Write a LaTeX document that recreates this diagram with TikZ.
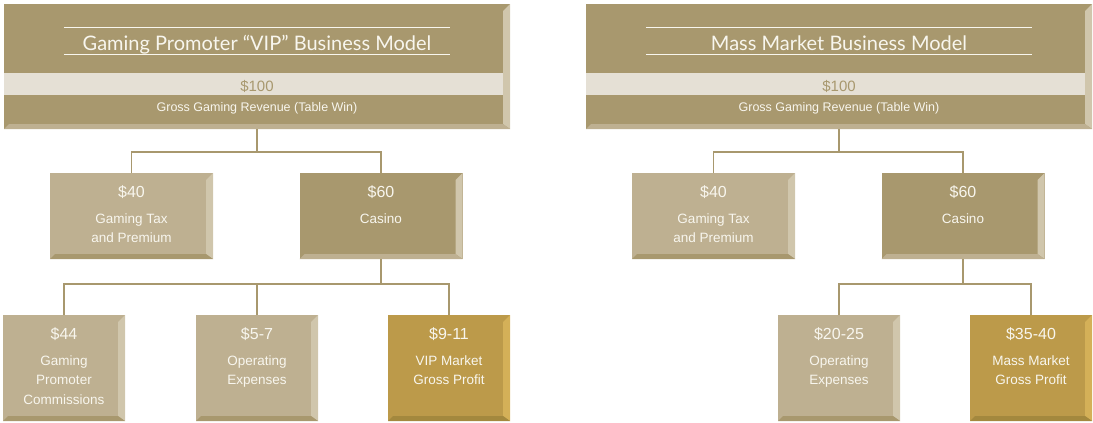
\documentclass[tikz,border=0pt]{standalone}
\usepackage{fontspec}
\setmainfont{Liberation Sans}
\newfontfamily\titlefont{Lato}

\definecolor{khaki}{RGB}{168,152,110}
\definecolor{sand}{RGB}{190,176,145}
\definecolor{pale}{RGB}{208,198,172}
\definecolor{band}{RGB}{229,224,213}
\definecolor{gold}{RGB}{188,154,74}
\definecolor{goldlight}{RGB}{212,176,88}
\definecolor{golddark}{RGB}{163,136,62}
\definecolor{cream}{RGB}{248,246,238}

% right and bottom bevel of a box: name, right colour, bottom colour
\newcommand{\bevel}[3]{%
	\fill[#2] (#1.north east) -- (#1.south east) -- ([xshift=-7pt,yshift=5pt]#1.south east) -- ([xshift=-7pt,yshift=-7pt]#1.north east) -- cycle;
	\fill[#3] (#1.south west) -- (#1.south east) -- ([xshift=-7pt,yshift=5pt]#1.south east) -- ([xshift=5pt,yshift=5pt]#1.south west) -- cycle;}

\tikzset{
	box/.style={rectangle, inner sep=0pt, outer sep=0pt},
	toprow/.style={box, fill=khaki, minimum width=506pt, minimum height=125pt},
	midrow/.style={box, minimum width=163pt, minimum height=86pt},
	lowrow/.style={box, minimum width=122pt, minimum height=106pt},
	heading/.style={inner sep=0pt, minimum width=386pt, text height=22pt, text depth=4pt, text=cream, font=\titlefont\fontsize{20}{24}\selectfont},
	titleline/.style={draw=cream, line width=1pt},
	amount/.style={inner sep=0pt, anchor=base, text=cream, font=\fontsize{16}{19}\selectfont},
	desc/.style={inner sep=0pt, anchor=north, align=center, text=cream, font=\fontsize{13.5}{19.5}\selectfont},
	link/.style={draw=khaki, line width=1.8pt},
}

\begin{document}
\begin{tikzpicture}[x=1pt,y=-1pt]
	\useasboundingbox (0,0) rectangle (1093,423);

	% Gaming promoter side
	\node[toprow] (vip) at (257,66.5) {};
	\fill[band] ([yshift=-69pt]vip.north west) rectangle ([yshift=-91pt]vip.north east);
	\bevel{vip}{pale}{sand}
	\node[heading] (viptitle) at (257,41) {Gaming Promoter “VIP” Business Model};
	\draw[titleline] (viptitle.north west) -- (viptitle.north east);
	\draw[titleline] (viptitle.south west) -- (viptitle.south east);
	\node[amount, text=khaki, font=\fontsize{15}{18}\selectfont] at ([yshift=-87.5pt]vip.north) {\$100};
	\node[amount, font=\fontsize{12.5}{15}\selectfont] at ([yshift=-107pt]vip.north) {Gross Gaming Revenue (Table Win)};

	\node[midrow, fill=sand] (vtax) at (131.5,216) {};
	\bevel{vtax}{pale}{khaki}
	\node[amount] at ([yshift=-24.5pt]vtax.north) {\$40};
	\node[desc] at ([yshift=-40.5pt]vtax.north) {Gaming Tax\\and Premium};

	\node[midrow, fill=khaki] (vcasino) at (381,216) {};
	\bevel{vcasino}{pale}{sand}
	\node[amount] at ([yshift=-24.5pt]vcasino.north) {\$60};
	\node[desc] at ([yshift=-40.5pt]vcasino.north) {Casino};

	\node[lowrow, fill=sand] (vcom) at (64,368) {};
	\bevel{vcom}{pale}{khaki}
	\node[amount] at ([yshift=-24.5pt]vcom.north) {\$44};
	\node[desc] at ([yshift=-40.5pt]vcom.north) {Gaming\\Promoter\\Commissions};

	\node[lowrow, fill=sand] (vopex) at (257,368) {};
	\bevel{vopex}{pale}{khaki}
	\node[amount] at ([yshift=-24.5pt]vopex.north) {\$5-7};
	\node[desc] at ([yshift=-40.5pt]vopex.north) {Operating\\Expenses};

	\node[lowrow, fill=gold] (vprofit) at (449,368) {};
	\bevel{vprofit}{goldlight}{golddark}
	\node[amount] at ([yshift=-24.5pt]vprofit.north) {\$9-11};
	\node[desc] at ([yshift=-40.5pt]vprofit.north) {VIP Market\\Gross Profit};

	\draw[link] (vip.south) -- ++(0,23) coordinate (vipfork);
	\draw[link] (vtax.north) |- (vipfork) -| (vcasino.north);
	\draw[link] (vcasino.south) -- ++(0,25) coordinate (vcasfork);
	\draw[link] (vcom.north) |- (vcasfork) -| (vprofit.north);
	\draw[link] (vopex.north) -- (vopex.north |- vcasfork);

	% Mass market side
	\node[toprow] (mm) at (839,66.5) {};
	\fill[band] ([yshift=-69pt]mm.north west) rectangle ([yshift=-91pt]mm.north east);
	\bevel{mm}{pale}{sand}
	\node[heading] (mmtitle) at (839,41) {Mass Market Business Model};
	\draw[titleline] (mmtitle.north west) -- (mmtitle.north east);
	\draw[titleline] (mmtitle.south west) -- (mmtitle.south east);
	\node[amount, text=khaki, font=\fontsize{15}{18}\selectfont] at ([yshift=-87.5pt]mm.north) {\$100};
	\node[amount, font=\fontsize{12.5}{15}\selectfont] at ([yshift=-107pt]mm.north) {Gross Gaming Revenue (Table Win)};

	\node[midrow, fill=sand] (mtax) at (713.5,216) {};
	\bevel{mtax}{pale}{khaki}
	\node[amount] at ([yshift=-24.5pt]mtax.north) {\$40};
	\node[desc] at ([yshift=-40.5pt]mtax.north) {Gaming Tax\\and Premium};

	\node[midrow, fill=khaki] (mcasino) at (963,216) {};
	\bevel{mcasino}{pale}{sand}
	\node[amount] at ([yshift=-24.5pt]mcasino.north) {\$60};
	\node[desc] at ([yshift=-40.5pt]mcasino.north) {Casino};

	\node[lowrow, fill=sand] (mopex) at (839,368) {};
	\bevel{mopex}{pale}{khaki}
	\node[amount] at ([yshift=-24.5pt]mopex.north) {\$20-25};
	\node[desc] at ([yshift=-40.5pt]mopex.north) {Operating\\Expenses};

	\node[lowrow, fill=gold] (mprofit) at (1031,368) {};
	\bevel{mprofit}{goldlight}{golddark}
	\node[amount] at ([yshift=-24.5pt]mprofit.north) {\$35-40};
	\node[desc] at ([yshift=-40.5pt]mprofit.north) {Mass Market\\Gross Profit};

	\draw[link] (mm.south) -- ++(0,23) coordinate (mmfork);
	\draw[link] (mtax.north) |- (mmfork) -| (mcasino.north);
	\draw[link] (mcasino.south) -- ++(0,25) coordinate (mcasfork);
	\draw[link] (mopex.north) |- (mcasfork) -| (mprofit.north);
\end{tikzpicture}
\end{document}
